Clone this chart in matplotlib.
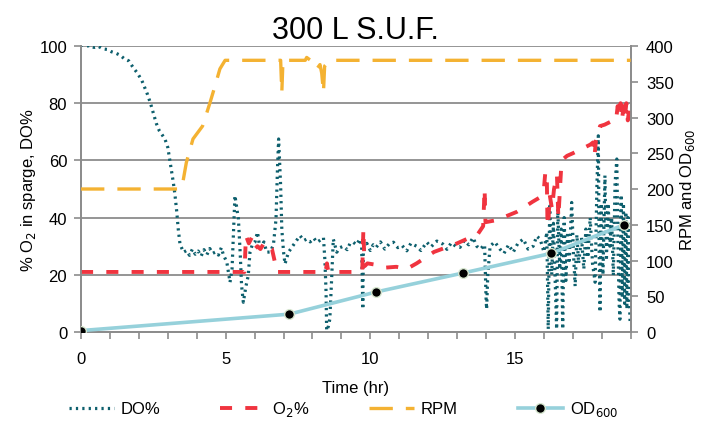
import matplotlib
matplotlib.use("Agg")
import matplotlib.pyplot as plt

plt.rcParams['font.family'] = ['Liberation Sans', 'DejaVu Sans']

# DO% (left axis)
do_t = [0.00, 0.15, 0.30, 0.45, 0.60, 0.75, 0.90, 1.05, 1.20, 1.35, 1.50, 1.65, 1.80, 1.95,
        2.10, 2.20, 2.30, 2.40, 2.50, 2.60, 2.70, 2.80, 2.90, 3.00, 3.08, 3.19, 3.25, 3.31,
        3.36, 3.42, 3.54, 3.65, 3.75, 3.85, 3.95, 4.05, 4.15, 4.25, 4.35, 4.45, 4.55, 4.65,
        4.75, 4.85, 4.92, 5.04, 5.15, 5.22, 5.32, 5.44, 5.50, 5.55, 5.61, 5.65, 5.70, 5.78,
        5.84, 5.92, 6.01, 6.10, 6.18, 6.24, 6.32, 6.42, 6.54, 6.65, 6.74, 6.79, 6.83, 6.90,
        6.94, 7.00, 7.05, 7.17, 7.34, 7.45, 7.57, 7.70, 7.80, 7.92, 8.05, 8.15, 8.25, 8.38,
        8.43, 8.47, 8.49, 8.55, 8.60, 8.66, 8.72, 8.84, 8.95, 9.07, 9.20, 9.30, 9.41, 9.52,
        9.64, 9.70, 9.74, 9.76, 9.88, 10.00, 10.10, 10.20, 10.35, 10.50, 10.65, 10.80, 10.95,
        11.10, 11.26, 11.40, 11.60, 11.75, 11.95, 12.10, 12.30, 12.50, 12.65, 12.80, 12.95,
        13.10, 13.25, 13.40, 13.55, 13.68, 13.80, 13.95, 14.00, 14.02, 14.06, 14.14, 14.30,
        14.48, 14.62, 14.78, 14.94, 15.10, 15.29, 15.45, 15.63, 15.75, 15.87, 16.00, 16.10,
        16.15, 16.20, 16.27, 16.33, 16.40, 16.44, 16.48, 16.55, 16.60, 16.65, 16.70, 16.76,
        16.82, 16.88, 16.96, 17.02, 17.08, 17.14, 17.20, 17.30, 17.38, 17.45, 17.52, 17.60,
        17.68, 17.77, 17.83, 17.88, 17.91, 17.94, 17.98, 18.04, 18.11, 18.16, 18.22, 18.28,
        18.34, 18.40, 18.46, 18.52, 18.56, 18.60, 18.63, 18.67, 18.71, 18.75, 18.79, 18.83,
        18.87, 18.91, 18.95, 18.98]
do_v = [100.5, 99.8, 100.2, 99.5, 99.9, 99.0, 98.8, 98.0, 97.5, 96.8, 95.5, 94.8, 92.5, 90.5,
        88.0, 85.5, 83.0, 80.0, 76.5, 73.0, 70.5, 69.0, 67.5, 64.5, 59.3, 52.3, 47.7, 41.9,
        36.0, 30.8, 27.9, 28.5, 26.8, 29.0, 27.2, 28.3, 26.5, 28.8, 27.0, 29.2, 27.5, 28.0,
        26.9, 29.5, 27.0, 24.4, 17.4, 22.0, 47.7, 39.5, 27.9, 16.2, 10.4, 13.0, 16.0, 19.7,
        27.9, 30.5, 31.4, 34.9, 29.5, 30.0, 31.5, 27.9, 28.0, 30.5, 39.5, 57.0, 67.5, 51.0,
        36.0, 28.0, 23.8, 27.9, 30.4, 32.0, 33.7, 32.0, 32.5, 31.5, 32.8, 31.4, 32.0, 33.0,
        25.0, 13.9, 0.5, 2.0, 4.5, 18.0, 32.5, 27.9, 29.5, 30.0, 28.8, 31.0, 31.4, 30.5,
        32.5, 30.0, 8.0, 29.0, 31.0, 28.5, 30.5, 29.6, 31.5, 29.0, 30.8, 31.4, 29.5,
        30.2, 28.4, 31.0, 30.0, 28.5, 31.4, 29.8, 31.8, 30.8, 28.9, 31.2, 30.0,
        29.6, 32.0, 30.5, 33.0, 30.0, 29.0, 30.5, 12.0, 8.0, 20.0, 30.0, 31.5,
        29.0, 27.5, 30.5, 27.9, 31.0, 32.5, 29.0, 30.0, 33.5, 32.5, 28.0, 34.9,
        1.0, 44.0, 20.0, 38.0, 15.0, 1.0, 43.0, 22.0, 36.0, 1.0, 40.0, 18.0,
        35.0, 25.0, 45.3, 28.0, 16.0, 34.0, 24.0, 33.0, 22.0, 36.0, 26.0, 40.0,
        24.0, 17.4, 50.0, 68.6, 30.0, 7.0, 45.0, 20.0, 54.7, 25.0, 45.0, 30.0,
        40.0, 19.7, 52.0, 60.5, 30.0, 10.0, 4.5, 48.0, 12.0, 45.0, 10.0, 42.0,
        8.0, 40.0, 12.0, 3.4]

# % O2 in sparge (left axis)
o2_t = [0.0, 5.60, 5.65, 5.70, 5.80, 5.90, 6.00, 6.10, 6.20, 6.35, 6.50, 6.60, 6.70, 6.75,
        8.45, 8.50, 8.55, 9.72, 9.76, 9.80, 9.90, 10.20, 10.50, 10.90, 11.25, 11.60, 11.90,
        12.20, 12.60, 13.00, 13.33, 13.70, 13.90, 13.95, 13.98, 14.30, 14.70, 15.06, 15.30,
        15.60, 15.85, 16.00, 16.05, 16.10, 16.12, 16.15, 16.20, 16.28, 16.35, 16.45, 16.50,
        16.60, 16.67, 16.80, 17.00, 17.30, 17.60, 17.70, 17.75, 17.80, 17.94, 18.10, 18.30,
        18.45, 18.50, 18.55, 18.60, 18.65, 18.70, 18.75, 18.80, 18.85, 18.90, 18.95, 19.00]
o2_v = [21, 21, 21, 33.7, 31, 33, 29, 30, 29, 31.5, 29.7, 29, 24.5, 21,
        21, 24, 21, 21, 36, 23, 24, 23.5, 22.5, 22.8, 22, 24, 26,
        28, 29.5, 31, 32.5, 34, 37, 50, 38.4, 39, 40.5, 42, 43.5,
        45.5, 47, 50, 56, 54.7, 40, 37, 48, 43, 50, 55, 40,
        58, 60.5, 61.6, 62.5, 64, 65.5, 66.3, 61.6, 67, 72, 72.5, 73.5,
        75, 74.5, 79, 76, 80, 74, 79, 75, 80, 74, 78, 74.5]

# RPM (right axis)
rpm_t = [0.0, 3.45, 3.50, 3.64, 3.87, 4.20, 4.46, 4.63, 4.80, 4.98, 5.10, 6.90, 6.94, 6.98,
         7.75, 7.80, 8.00, 8.15, 8.26, 8.32, 8.38, 8.42, 8.60, 19.0]
rpm_v = [200, 200, 205, 237, 270, 288, 321, 344, 368, 380, 380, 380, 335, 380,
         380, 384, 378, 368, 374, 362, 335, 372, 380, 380]

# OD600 (right axis)
od_t = [0.0, 7.2, 10.2, 13.2, 16.25, 18.77]
od_v = [2, 25, 56, 82.5, 110, 150]

c_do = '#0d5f6d'
c_o2 = '#f0343f'
c_rpm = '#f4b232'
c_od = '#96d1db'
c_grid = '#8c8c8c'

fig = plt.figure(figsize=(7.01, 4.27), dpi=100)
ax = fig.add_axes([0.1156, 0.2201, 0.7841, 0.6698])
ax2 = ax.twinx()

l_do, = ax.plot(do_t, do_v, color=c_do, lw=2.3, linestyle=(0, (0.7, 1.3)),
                label='DO%', zorder=3)
l_o2, = ax.plot(o2_t, o2_v, color=c_o2, lw=2.8, linestyle=(0, (3.1, 3.4)),
                label='O$_2$%', zorder=4)
l_rpm, = ax2.plot(rpm_t, rpm_v, color=c_rpm, lw=2.4, linestyle=(0, (7, 3.9)),
                  label='RPM', zorder=3)
l_od, = ax2.plot(od_t, od_v, color=c_od, lw=2.6, marker='o', markersize=7,
                 markerfacecolor='black', markeredgecolor='#d6e6cf', markeredgewidth=1,
                 label='OD$_{600}$', zorder=4)

ax.set_xlim(0, 19)
ax.set_ylim(0, 100)
ax2.set_ylim(0, 400)

ax.set_xticks(range(0, 20))
ax.set_xticklabels([str(i) if i % 5 == 0 else '' for i in range(0, 20)])
ax.set_yticks(range(0, 101, 20))
ax2.set_yticks(range(0, 401, 50))

ax.grid(axis='y', color=c_grid, lw=1.3)
ax.set_axisbelow(True)

for a in (ax, ax2):
    for s in a.spines.values():
        s.set_color(c_grid)
        s.set_linewidth(1.3)
    a.spines['top'].set_visible(False)
ax.tick_params(axis='x', length=5, width=1.2, color=c_grid, pad=9, labelsize=12)
ax.tick_params(axis='y', length=5, width=1.2, color=c_grid, pad=5, labelsize=12)
ax2.tick_params(axis='y', length=5, width=1.2, color=c_grid, pad=6, labelsize=12)

ax.set_xlabel('Time (hr)', fontsize=12, labelpad=10)
ax.set_ylabel('% O$_2$ in sparge, DO%', fontsize=12, labelpad=1)
ax2.set_ylabel('RPM and OD$_{600}$', fontsize=12, labelpad=3)
ax.set_title('300 L S.U.F.', fontsize=22, pad=6)

fig.legend(handles=[l_do, l_o2, l_rpm, l_od], loc='center', bbox_to_anchor=(0.49, 0.04),
           ncol=4, frameon=False, fontsize=12, handlelength=2.7, handletextpad=0.4,
           columnspacing=3.6)

fig.savefig('out.png', dpi=100)
